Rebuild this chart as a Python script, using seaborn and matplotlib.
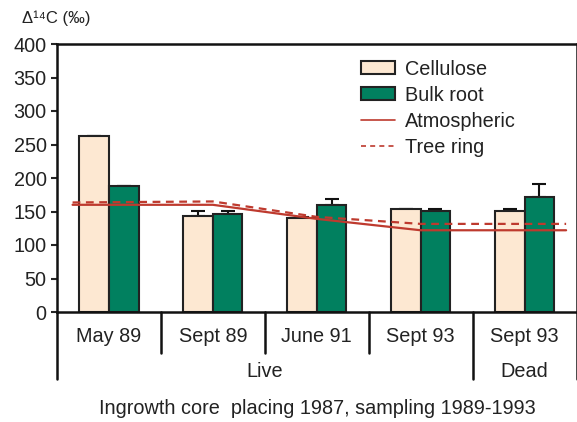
import matplotlib
matplotlib.use("Agg")
import matplotlib.pyplot as plt
import matplotlib.transforms as mtransforms
from matplotlib.patches import Patch
from matplotlib.lines import Line2D
import seaborn as sns
import pandas as pd
import numpy as np

# ---- data ----
categories = ["May 89", "Sept 89", "June 91", "Sept 93", "Sept 93 "]
cellulose = [262, 144, 141, 153, 151]
cellulose_err = [0.5, 6.5, 1.5, 0.8, 2.8]
bulk_root = [188, 147, 160, 151, 172]
bulk_root_err = [0, 3.5, 9, 2.8, 19.5]
line_x = [-0.35, 1, 2, 3, 4.4]
atmospheric = [160, 160, 139, 122, 122]
tree_ring = [163.5, 165, 142, 131.5, 131.5]
groups = ["Live", "Dead"]
group_spans = [(0, 3), (4, 4)]
caption = "Ingrowth core  placing 1987, sampling 1989-1993"

sns.set_style("white")
plt.rcParams["font.family"] = ["Liberation Sans", "DejaVu Sans"]
text_color = "#222222"
FS = 14.3

df = pd.DataFrame({
    "cat": categories * 2,
    "val": cellulose + bulk_root,
    "type": ["Cellulose"] * 5 + ["Bulk root"] * 5,
})

fig = plt.figure(figsize=(5.77, 4.22), dpi=100)
ax = fig.add_axes([57 / 577, 1 - 312 / 422, 519.5 / 577, 268 / 422])

colors = {"Cellulose": "#FDE8D2", "Bulk root": "#01805F"}
sns.barplot(data=df, x="cat", y="val", hue="type", order=categories,
            hue_order=["Cellulose", "Bulk root"], palette=colors, saturation=1,
            width=0.57, gap=0, edgecolor="#222222", linewidth=1.5,
            errorbar=None, legend=False, ax=ax, zorder=2)

for cont, errs in zip(ax.containers, [cellulose_err, bulk_root_err]):
    xs = [b.get_x() + b.get_width() / 2 for b in cont]
    ys = [b.get_height() for b in cont]
    ax.errorbar(xs, ys, yerr=[np.zeros(len(errs)), errs], fmt="none",
                ecolor="#111111", elinewidth=1.5, capsize=4.7, capthick=1.5, zorder=1)

red = "#BE3A2E"
sns.lineplot(x=line_x, y=atmospheric, color=red, lw=1.6, ax=ax, zorder=3, sort=False)
sns.lineplot(x=line_x, y=tree_ring, color=red, lw=1.6, ax=ax, zorder=3, sort=False,
             linestyle=(0, (3.5, 2.5)))

ax.set_xlim(-0.5, 4.5)
ax.set_ylim(0, 400)
ax.set_yticks(np.arange(0, 401, 50))
ax.tick_params(axis="y", which="major", left=True, length=4.5, width=1.5,
               labelsize=FS, labelcolor=text_color, pad=3)
ax.tick_params(axis="x", bottom=False, labelbottom=False)
ax.set_xlabel("")
ax.set_ylabel("")
for s in ax.spines.values():
    s.set_visible(True)
    s.set_linewidth(1.8)
    s.set_color("#111111")

# below-axis category structure
trans = mtransforms.blended_transform_factory(ax.transData, ax.transAxes)
for i in range(len(categories)):
    ax.text(i, -0.092, categories[i].strip(), transform=trans, ha="center",
            va="center", fontsize=FS, color=text_color)
for b in [0.5, 1.5, 2.5]:
    ax.plot([b, b], [0, -0.153], transform=trans, color="#111111", lw=1.8,
            clip_on=False)
for b in [-0.5, 3.5, 4.5]:
    ax.plot([b, b], [0, -0.25], transform=trans, color="#111111", lw=1.8,
            clip_on=False)
for g, (a, bnd) in zip(groups, group_spans):
    ax.text((a + bnd) / 2, -0.223, g, transform=trans, ha="center",
            va="center", fontsize=FS, color=text_color)

fig.text(317 / 577, 1 - 408 / 422, caption, ha="center", va="center",
         fontsize=FS, color=text_color)
fig.text(22 / 577, 1 - 18 / 422, "Δ¹⁴C (‰)", ha="left", va="center",
         fontsize=12, color=text_color)

handles = [
    Patch(facecolor=colors["Cellulose"], edgecolor="#222222", linewidth=1.5),
    Patch(facecolor=colors["Bulk root"], edgecolor="#222222", linewidth=1.5),
    Line2D([], [], color=red, lw=1.2),
    Line2D([], [], color=red, lw=1.2, linestyle=(0, (3, 2.5))),
]
ax.legend(handles, ["Cellulose", "Bulk root", "Atmospheric", "Tree ring"],
          loc="upper left", bbox_to_anchor=(0.585, 0.942), frameon=False,
          fontsize=FS, handlelength=1.72, handleheight=0.62, handletextpad=0.5,
          labelspacing=0.36, borderpad=0, borderaxespad=0, labelcolor=text_color)

fig.savefig("out.png", dpi=100)
